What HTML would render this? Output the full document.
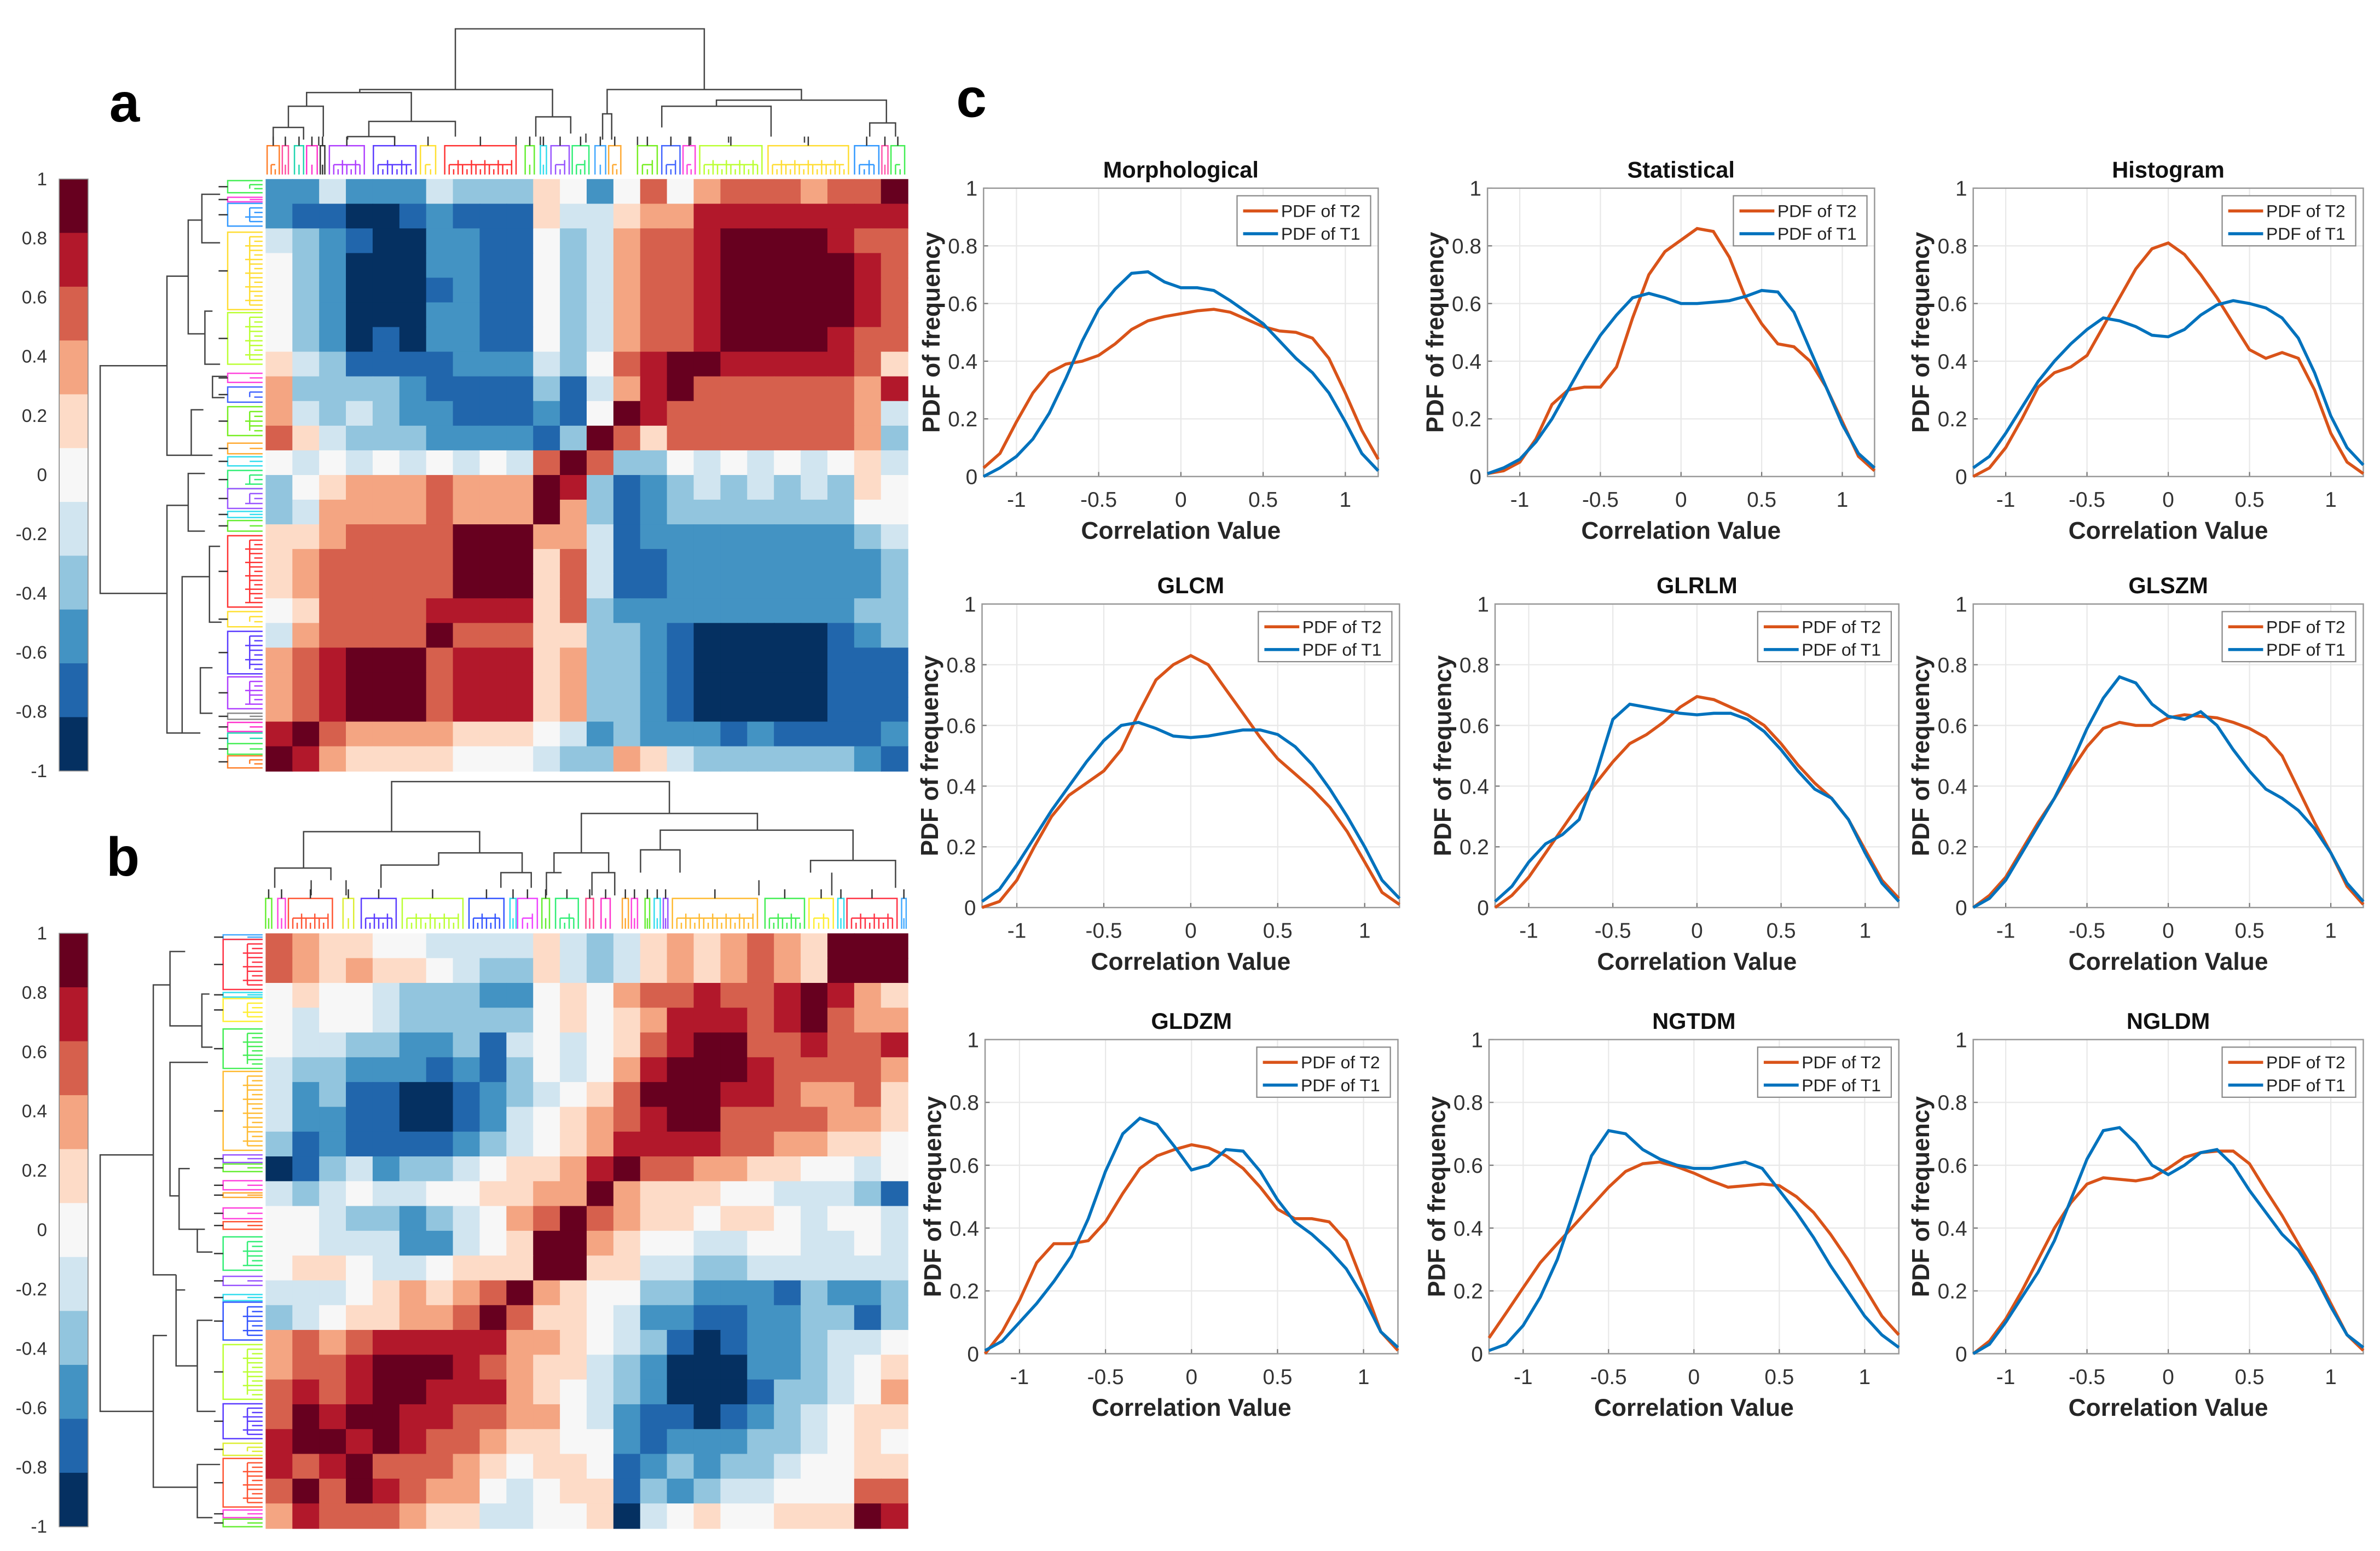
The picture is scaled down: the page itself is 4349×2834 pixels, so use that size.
<!DOCTYPE html>
<html><head><meta charset="utf-8"><title>Radiomics correlation figure</title>
<style>html,body{margin:0;padding:0;background:#fff;}svg{display:block;}</style></head>
<body>
<svg id="fig" xmlns="http://www.w3.org/2000/svg" width="4349" height="2834" viewBox="0 0 1568 1022" preserveAspectRatio="none" font-family="Liberation Sans, Arial, sans-serif">
<rect x="0" y="0" width="1568" height="1022" fill="#fff"/>
<text x="72" y="80" font-size="36" font-weight="bold">a</text>
<text x="70" y="577" font-size="36" font-weight="bold">b</text>
<text x="630" y="77" font-size="36" font-weight="bold">c</text>
<g id="heat"></g>
<g id="charts"></g>
</svg>
<script>
// ---------- DATA ----------
const heatLevels = ['#053061','#2166ac','#4393c3','#92c5de','#d1e5f0','#f7f7f7','#fddbc7','#f4a582','#d6604d','#b2182b','#67001f'];
const colorbarTicks = ['1','0.8','0.6','0.4','0.2','0','-0.2','-0.4','-0.6','-0.8','-1'];
const heatA = [
"22422243336525857888788A",
"211001211164467799999999",
"43210022115347889AAAA988",
"53200022115347889AAAAA98",
"53200012115347889AAAAA98",
"53200022115347889AAAAA98",
"53201022115347889AAAA988",
"643111122243589AA9999986",
"733332111131479A88888879",
"7434322111215A9888888874",
"864333222213A86888888873",
"54545454548A833545454564",
"3567778777A9312343434365",
"3477778777A7312333333355",
"6678888AAA77412222222234",
"6788888AAA68411222222223",
"6788888AAA68411222222223",
"568888999968322222222233",
"478888A88866332100000123",
"789AAA899967332100000111",
"789AAA899967332100000111",
"789AAA899967332100000111",
"9A8777766654232221211112",
"A97666655543376433333321"];
const heatB = [
"876655444464346767876AAA",
"876766543364346767876AAA",
"56554333225657889889A976",
"54554333335656799989A877",
"5443322314545689AA889889",
"433222121354579AAA988887",
"42311001234568AAA9987786",
"422110012456789AA8888776",
"312111123456799998877665",
"0134233456679A8877665545",
"434544556677A76665544431",
"55433234578A876656654554",
"5544422456AA765544554454",
"5665445666AA664433444444",
"444567678A76553322213223",
"34566778A866542211223313",
"787899999776543101223445",
"7889AAA98766432000223456",
"8989AA999765432000133457",
"8A9AA9988775421101234566",
"9AA9A9887665521222334565",
"989A88876566512323345566",
"8A8A98775456613234455588",
"7988876644556045655666A9"];

const xs = [-1.2,-1.1,-1.0,-0.9,-0.8,-0.7,-0.6,-0.5,-0.4,-0.3,-0.2,-0.1,0,0.1,0.2,0.3,0.4,0.5,0.6,0.7,0.8,0.9,1.0,1.1,1.2];
const xTicks = [-1,-0.5,0,0.5,1];
const xTickLabels = ['-1','-0.5','0','0.5','1'];
const yTicks = [0,0.2,0.4,0.6,0.8,1];
const yTickLabels = ['0','0.2','0.4','0.6','0.8','1'];
const titles = ['Morphological','Statistical','Histogram','GLCM','GLRLM','GLSZM','GLDZM','NGTDM','NGLDM'];
const morphT2 = [0.03,0.08,0.19,0.29,0.36,0.39,0.40,0.42,0.46,0.51,0.54,0.555,0.565,0.575,0.58,0.57,0.545,0.52,0.505,0.50,0.48,0.41,0.29,0.16,0.06];
const morphT1 = [0.0,0.03,0.07,0.13,0.22,0.34,0.47,0.58,0.65,0.705,0.71,0.675,0.655,0.655,0.645,0.61,0.57,0.53,0.47,0.41,0.36,0.29,0.19,0.08,0.02];
const statT2 = [0.01,0.02,0.05,0.13,0.25,0.30,0.31,0.31,0.38,0.55,0.70,0.78,0.82,0.86,0.85,0.76,0.62,0.53,0.46,0.45,0.40,0.31,0.19,0.07,0.02];
const statT1 = [0.01,0.03,0.06,0.12,0.2,0.3,0.4,0.49,0.56,0.62,0.635,0.62,0.60,0.60,0.605,0.61,0.625,0.645,0.64,0.57,0.44,0.31,0.18,0.08,0.03];
const histT2 = [0.0,0.03,0.1,0.2,0.31,0.36,0.38,0.42,0.52,0.62,0.72,0.79,0.81,0.77,0.7,0.62,0.53,0.44,0.41,0.43,0.41,0.3,0.15,0.05,0.01];
const histT1 = [0.03,0.07,0.15,0.24,0.33,0.4,0.46,0.51,0.55,0.54,0.52,0.49,0.485,0.51,0.56,0.595,0.61,0.60,0.585,0.55,0.48,0.36,0.21,0.1,0.04];
const glcmT2 = [0.0,0.02,0.09,0.2,0.3,0.37,0.41,0.45,0.52,0.64,0.75,0.8,0.83,0.8,0.72,0.64,0.56,0.49,0.44,0.39,0.33,0.25,0.15,0.05,0.01];
const glcmT1 = [0.02,0.06,0.14,0.23,0.32,0.4,0.48,0.55,0.6,0.61,0.59,0.565,0.56,0.565,0.575,0.585,0.585,0.57,0.53,0.47,0.39,0.3,0.2,0.09,0.03];
const glrlmT2 = [0.0,0.04,0.1,0.18,0.26,0.34,0.41,0.48,0.54,0.57,0.61,0.66,0.695,0.685,0.66,0.635,0.6,0.54,0.47,0.41,0.36,0.29,0.19,0.09,0.03];
const glrlmT1 = [0.02,0.07,0.15,0.21,0.24,0.29,0.44,0.62,0.67,0.66,0.65,0.64,0.635,0.64,0.64,0.62,0.58,0.52,0.45,0.39,0.36,0.29,0.18,0.08,0.02];
const glszmT2 = [0.0,0.04,0.1,0.19,0.28,0.36,0.45,0.53,0.59,0.61,0.60,0.6,0.625,0.635,0.63,0.625,0.61,0.59,0.56,0.5,0.39,0.28,0.18,0.07,0.01];
const glszmT1 = [0.0,0.03,0.09,0.18,0.27,0.36,0.47,0.59,0.69,0.76,0.74,0.67,0.63,0.62,0.645,0.6,0.52,0.45,0.39,0.36,0.32,0.26,0.18,0.08,0.02];
const gldzmT2 = [0.0,0.07,0.17,0.29,0.35,0.35,0.36,0.42,0.51,0.59,0.63,0.65,0.665,0.655,0.63,0.59,0.53,0.46,0.43,0.43,0.42,0.36,0.22,0.07,0.01];
const gldzmT1 = [0.01,0.04,0.1,0.16,0.23,0.31,0.43,0.58,0.7,0.75,0.73,0.66,0.585,0.6,0.65,0.645,0.58,0.49,0.42,0.38,0.33,0.27,0.18,0.07,0.02];
const ngtdmT2 = [0.05,0.13,0.21,0.29,0.35,0.41,0.47,0.53,0.58,0.605,0.61,0.595,0.575,0.55,0.53,0.535,0.54,0.535,0.5,0.45,0.38,0.3,0.21,0.12,0.06];
const ngtdmT1 = [0.01,0.03,0.09,0.18,0.3,0.46,0.63,0.71,0.7,0.65,0.62,0.6,0.59,0.59,0.6,0.61,0.59,0.52,0.45,0.37,0.28,0.2,0.12,0.06,0.02];
const ngldmT2 = [0.0,0.04,0.11,0.2,0.3,0.4,0.48,0.54,0.56,0.555,0.55,0.56,0.59,0.625,0.64,0.645,0.645,0.605,0.52,0.44,0.35,0.26,0.16,0.06,0.01];
const ngldmT1 = [0.0,0.03,0.1,0.18,0.26,0.36,0.49,0.62,0.71,0.72,0.67,0.6,0.57,0.6,0.64,0.65,0.6,0.52,0.45,0.38,0.33,0.25,0.15,0.06,0.02];

// ---------- RENDER ----------
const NS='http://www.w3.org/2000/svg';
function mk(tag, attrs, parent){const e=document.createElementNS(NS,tag);for(const k in attrs)e.setAttribute(k,attrs[k]);parent.appendChild(e);return e;}
const heatG=document.getElementById('heat');
const chartG=document.getElementById('charts');

function drawHeat(rows, x0, y0, w, h, name){
  const g=mk('g',{},heatG);
  
  
  const n=rows.length, m=rows[0].length, cw=w/m, ch=h/n;
  for(let i=0;i<n;i++){for(let j=0;j<m;j++){
    const lv=parseInt(rows[i][j],16);
    const r=mk('rect',{x:(x0+j*cw).toFixed(2),y:(y0+i*ch).toFixed(2),width:(cw+0.4).toFixed(2),height:(ch+0.4).toFixed(2),fill:heatLevels[lv]},g);
    
    
  }}
}
function drawColorbar(x0,y0,w,h,name){
  const g=mk('g',{},heatG);
  
  
  const nb=heatLevels.length, bh=h/nb;
  for(let k=0;k<nb;k++){
    mk('rect',{x:x0,y:(y0+k*bh).toFixed(2),width:w,height:(bh+0.3).toFixed(2),fill:heatLevels[nb-1-k]},g);
  }
  mk('rect',{x:x0,y:y0,width:w,height:h,fill:'none',stroke:'#888','stroke-width':0.6},g);
  for(let k=0;k<colorbarTicks.length;k++){
    const t=mk('text',{x:31,y:(y0+k*h/(colorbarTicks.length-1)+4).toFixed(1),'font-size':12,'text-anchor':'end',fill:'#333'},g);
    
    
    t.textContent=colorbarTicks[k];
  }
}
function seg(g,pts,color,sw){mk('polyline',{points:pts.map(p=>p.join(',')).join(' '),fill:'none',stroke:color,'stroke-width':sw||0.9},g);}
function topClusters(g,list,topY,baseY){
  list.forEach(c=>{const [x0,x1,col]=c;const nl=Math.max(2,Math.round((x1-x0)/3));
    const mid=(topY+baseY)/2;
    seg(g,[[x0,baseY],[x0,topY],[x1,topY],[x1,baseY]],col);
    for(let k=1;k<nl;k++){const x=x0+(x1-x0)*k/nl;seg(g,[[x,baseY],[x,mid+((k%3)*3)]],col);}
    if(nl>2)seg(g,[[x0+(x1-x0)/nl,mid+3],[x1-(x1-x0)/nl,mid+3]],col);
    seg(g,[[(x0+x1)/2,topY],[(x0+x1)/2,topY-6]],'#333');
  });
}
function leftClusters(g,list,leftX,baseX){
  list.forEach(c=>{const [y0,y1,col]=c;const nl=Math.max(2,Math.round((y1-y0)/3));
    const mid=(leftX+baseX)/2;
    seg(g,[[baseX,y0],[leftX,y0],[leftX,y1],[baseX,y1]],col);
    for(let k=1;k<nl;k++){const y=y0+(y1-y0)*k/nl;seg(g,[[baseX,y],[mid+((k%3)*3),y]],col);}
    if(nl>2)seg(g,[[mid+3,y0+(y1-y0)/nl],[mid+3,y1-(y1-y0)/nl]],col);
    seg(g,[[leftX,(y0+y1)/2],[leftX-6,(y0+y1)/2]],'#333');
  });
}
// dendrogram a top
(function(){
  const g=mk('g',{},heatG);
  
  
  const L=[[[300,59],[300,19],[464,19],[464,59]],[[237,61],[237,59],[364,59],[364,77]],[[400,75],[400,59],[528,59],[528,66]],
   [[202,70],[202,61],[271,61],[271,80]],[[190,84],[190,70],[213,70],[213,90]],[[243,90],[243,80],[300,80],[300,90]],
   [[353,90],[353,77],[376,77],[376,88]],[[397,92],[397,75],[403,75],[403,92]],[[472,70],[472,66],[584,66],[584,81]],
   [[436,84],[436,70],[508,70],[508,90]],[[573,90],[573,81],[590,81],[590,90]],[[180,92],[180,84],[200,84],[200,92]],
   [[229,92],[229,90],[260,90],[260,92]],[[210,90],[210,96]],[[340,90],[340,96]],[[420,90],[420,96]],[[455,90],[455,96]],
   [[480,90],[480,94]],[[530,90],[530,94]],[[386,88],[386,94]],[[356,90],[356,96]]];
  L.forEach(p=>seg(g,p,'#444'));
  topClusters(g,[[176,184,'#ff7f2a'],[186,190,'#ff4fa0'],[194,200,'#21d6b0'],[202,209,'#ff33cc'],[211,214,'#333'],[217,240,'#b040ff'],[246,274,'#5a3cff'],[277,287,'#ffe033'],[293,340,'#ff3333'],[346,352,'#66ee33'],[356,360,'#33ddee'],[363,375,'#9955ff'],[377,388,'#33ee77'],[392,399,'#44aaff'],[401,409,'#ffaa33'],[420,433,'#77ee22'],[436,448,'#4466ff'],[450,458,'#ff44dd'],[461,502,'#bbff33'],[506,559,'#ffdd33'],[563,579,'#3399ff'],[581,585,'#ff55aa'],[587,596,'#44ee55']],96,115);
})();
// dendrogram a left
(function(){
  const g=mk('g',{},heatG);
  
  
  const L=[[[110,241],[66,241],[66,391],[110,391]],[[124,182],[110,182],[110,300],[126,300]],[[124,333],[110,333],[110,483],[120,483]],
   [[133,145],[124,145],[124,220],[135,220]],[[145,128],[133,128],[133,160],[145,160]],[[140,205],[135,205],[135,240],[145,240]],
   [[134,270],[126,270],[126,300],[140,300]],[[135,312],[124,312],[124,350],[135,350]],[[138,380],[120,380],[120,483],[132,483]],
   [[140,440],[132,440],[132,470],[140,470]],[[145,360],[138,360],[138,410],[146,410]],[[150,248],[140,248],[140,262],[148,262]]];
  L.forEach(p=>seg(g,p,'#444'));
  leftClusters(g,[[119,127,'#44ee55'],[130,133,'#ff44dd'],[134,149,'#3399ff'],[153,204,'#ffdd33'],[206,240,'#bbff33'],[246,252,'#ff44dd'],[255,265,'#4466ff'],[268,287,'#77ee22'],[292,299,'#ffaa33'],[301,307,'#33ddee'],[310,322,'#33ee77'],[322,335,'#9955ff'],[337,341,'#33ddee'],[343,350,'#66ee33'],[353,400,'#ff3333'],[403,413,'#ffe033'],[416,444,'#5a3cff'],[446,467,'#b040ff'],[470,474,'#888'],[476,482,'#ff33cc'],[483,490,'#21d6b0'],[490,497,'#44ee55'],[498,506,'#ff7f2a']],150,173);
})();
// dendrogram b top
(function(){
  const g=mk('g',{},heatG);
  
  
  const L=[[[258,548],[258,515],[441,515],[441,536]],[[200,572],[200,548],[316,548],[316,562]],[[383,562],[383,536],[499,536],[499,547]],
   [[181,585],[181,572],[218,572],[218,580]],[[289,570],[289,562],[344,562],[344,575]],[[365,575],[365,562],[401,562],[401,575]],
   [[435,560],[435,547],[562,547],[562,567]],[[422,575],[422,560],[448,560],[448,575]],[[534,575],[534,567],[590,567],[590,585]],
   [[251,585],[251,570],[289,570]],[[330,585],[330,575],[350,575],[350,585]],[[360,590],[360,575],[370,575]],[[390,590],[390,575],[405,575],[405,590]],
   [[205,580],[205,590]],[[228,580],[228,590]],[[500,580],[500,590]],[[548,575],[548,590]]];
  L.forEach(p=>seg(g,p,'#444'));
  topClusters(g,[[175,179,'#66ee33'],[183,188,'#ff44dd'],[190,219,'#ff5533'],[226,233,'#ddee33'],[238,261,'#5a3cff'],[265,305,'#bbff33'],[309,332,'#3355ff'],[336,340,'#33ddee'],[341,354,'#ee44ff'],[357,362,'#66ee33'],[366,381,'#33ee77'],[386,391,'#ff4488'],[396,402,'#ff33cc'],[410,414,'#ffaa33'],[416,420,'#ff44dd'],[425,428,'#66ee33'],[431,435,'#33ddee'],[437,440,'#9955ff'],[443,499,'#ffbb33'],[504,530,'#44ee55'],[533,549,'#ffee33'],[552,556,'#33ddee'],[558,591,'#ff3344'],[594,597,'#44aaff']],592,612);
})();
// dendrogram b left
(function(){
  const g=mk('g',{},heatG);
  
  
  const L=[[[101,761],[66,761],[66,930],[101,930]],[[112,649],[101,649],[101,840],[116,840]],[[110,880],[101,880],[101,980],[130,980]],
   [[122,627],[112,627],[112,676],[133,676]],[[137,700],[112,700],[112,788],[118,788]],[[125,770],[118,770],[118,810],[130,810]],
   [[122,850],[116,850],[116,840],[116,900],[130,900]],[[138,655],[133,655],[133,690],[140,690]],[[135,810],[130,810],[130,825],[140,825]],
   [[140,870],[130,870],[130,930],[142,930]],[[145,965],[130,965],[130,1000],[140,1000]]];
  L.forEach(p=>seg(g,p,'#444'));
  leftClusters(g,[[616,619,'#44aaff'],[619,652,'#ff3344'],[654,657,'#33ddee'],[658,673,'#ffee33'],[678,704,'#44ee55'],[706,758,'#ffbb33'],[761,766,'#9955ff'],[767,772,'#66ee33'],[778,784,'#ff44dd'],[786,789,'#ffaa33'],[796,803,'#ff44dd'],[805,810,'#ff5533'],[815,837,'#33ee77'],[841,847,'#9955ff'],[853,857,'#33ddee'],[858,883,'#3355ff'],[886,922,'#bbff33'],[925,948,'#5a3cff'],[951,959,'#ddee33'],[961,993,'#ff5533'],[995,1000,'#ff44dd'],[1001,1006,'#66ee33']],147,173);
})();

drawHeat(heatA,175,118,423,390,'heatmap-a');
drawHeat(heatB,175,615,423,392,'heatmap-b');
drawColorbar(39,118,19,390,'colorbar-a');
drawColorbar(39,615,19,391,'colorbar-b');

// ---------- CHARTS ----------
const seriesT2=[morphT2,statT2,histT2,glcmT2,glrlmT2,glszmT2,gldzmT2,ngtdmT2,ngldmT2];
const seriesT1=[morphT1,statT1,histT1,glcmT1,glrlmT1,glszmT1,gldzmT1,ngtdmT1,ngldmT1];
const boxes=[[648,908,124,314],[980,1235,124,314],[1300,1557,124,314],
             [647,922,398,598],[985,1251,398,598],[1300,1557,398,598],
             [649,921,685,892],[981,1251,685,892],[1300,1557,685,892]];
const xMin=-1.2,xMax=1.2;
boxes.forEach((b,i)=>{
  const [L,R,T,B]=b;
  const xS=v=>L+(v-xMin)/(xMax-xMin)*(R-L);
  const yS=v=>B-v*(B-T);
  const g=mk('g',{},chartG);
  
  
  mk('rect',{x:L,y:T,width:R-L,height:B-T,fill:'#fff'},g);
  yTicks.forEach((v,k)=>{
    mk('line',{x1:L,x2:R,y1:yS(v),y2:yS(v),stroke:'#e8e8e8','stroke-width':0.8},g);
    mk('line',{x1:L,x2:L+3,y1:yS(v),y2:yS(v),stroke:'#777','stroke-width':0.8},g);
    const t=mk('text',{x:L-4,y:yS(v)+5,'font-size':14,'text-anchor':'end',fill:'#333'},g);
    
    
    t.textContent=yTickLabels[k];
  });
  xTicks.forEach((v,k)=>{
    mk('line',{x1:xS(v),x2:xS(v),y1:T,y2:B,stroke:'#e8e8e8','stroke-width':0.8},g);
    mk('line',{x1:xS(v),x2:xS(v),y1:B,y2:B-3,stroke:'#777','stroke-width':0.8},g);
    const t=mk('text',{x:xS(v),y:B+20,'font-size':14,'text-anchor':'middle',fill:'#333'},g);
    
    
    t.textContent=xTickLabels[k];
  });
  mk('rect',{x:L,y:T,width:R-L,height:B-T,fill:'none',stroke:'#999','stroke-width':0.9},g);
  const p2=mk('polyline',{points:xs.map((x,k)=>xS(x).toFixed(1)+','+yS(seriesT2[i][k]).toFixed(1)).join(' '),fill:'none',stroke:'#d95319','stroke-width':2},g);
  
  
  const p1=mk('polyline',{points:xs.map((x,k)=>xS(x).toFixed(1)+','+yS(seriesT1[i][k]).toFixed(1)).join(' '),fill:'none',stroke:'#0072bd','stroke-width':2},g);
  
  
  const tt=mk('text',{x:(L+R)/2,y:T-7,'font-size':15,'font-weight':'bold','text-anchor':'middle',fill:'#111'},g);
  
  
  tt.textContent=titles[i];
  const xl=mk('text',{x:(L+R)/2,y:B+41,'font-size':16,'font-weight':'bold','text-anchor':'middle',fill:'#262626'},g);
  
  
  xl.textContent='Correlation Value';
  const yl=mk('text',{x:0,y:0,'font-size':16,'font-weight':'bold','text-anchor':'middle',fill:'#262626',transform:'translate('+(L-29)+','+((T+B)/2)+') rotate(-90)'},g);
  
  
  yl.textContent='PDF of frequency';
  // legend
  const lw=88, lx=R-lw-5, ly=T+5;
  const lg=mk('g',{},g);
  
  
  mk('rect',{x:lx,y:ly,width:lw,height:33,fill:'#fff',stroke:'#888','stroke-width':0.8},lg);
  [['PDF of T2','#d95319',ly+10],['PDF of T1','#0072bd',ly+25]].forEach(e=>{
    mk('line',{x1:lx+4,x2:lx+27,y1:e[2],y2:e[2],stroke:e[1],'stroke-width':2},lg);
    const t=mk('text',{x:lx+29,y:e[2]+4,'font-size':11.5,fill:'#222'},lg);
    
    
    t.textContent=e[0];
  });
});
</script>
</body></html>
